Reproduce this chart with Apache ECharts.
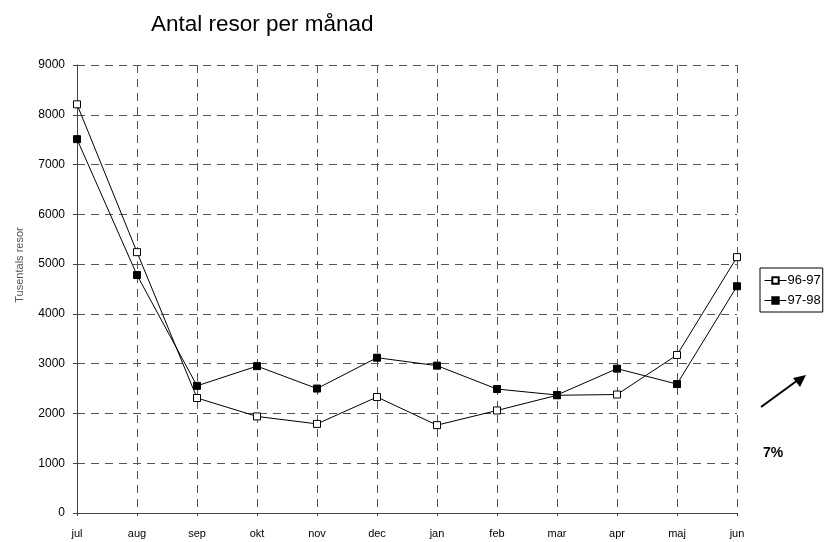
<!DOCTYPE html>
<html lang="sv">
<head>
  <meta charset="UTF-8" />
  <title>Antal resor per månad</title>
  <script src="https://cdn.jsdelivr.net/npm/echarts@6/dist/echarts.min.js"></script>
  <style>
    body { margin: 0; background: #fff; }
    #chart { width: 827px; height: 542px; }
  </style>
</head>
<body>
  <div id="chart"></div>
  <script>
    // månader (jul -> jun)
    const months = ['jul', 'aug', 'sep', 'okt', 'nov', 'dec', 'jan', 'feb', 'mar', 'apr', 'maj', 'jun'];
    // tusentals resor
    const season9697 = [8210, 5240, 2310, 1940, 1790, 2330, 1765, 2060, 2365, 2380, 3175, 5140];
    const season9798 = [7510, 4780, 2555, 2950, 2500, 3120, 2960, 2490, 2370, 2900, 2590, 4555];

    const font = 'Liberation Sans, Arial, sans-serif';
    const chart = echarts.init(document.getElementById('chart'));

    chart.setOption({
      animation: false,
      backgroundColor: '#fff',
      title: {
        text: 'Antal resor per månad',
        left: 146,
        top: 8,
        textStyle: { fontFamily: font, fontSize: 22.5, fontWeight: 'normal', color: '#000' }
      },
      legend: {
        orient: 'vertical',
        left: 760,
        top: 268,
        itemWidth: 22,
        itemHeight: 8,
        itemGap: 7,
        padding: [6, 2, 5, 4],
        borderColor: '#000',
        borderWidth: 1,
        lineStyle: { width: 1 },
        textStyle: { fontFamily: font, fontSize: 13, color: '#000', padding: [0, 0, 0, -4] },
        data: ['96-97', '97-98']
      },
      grid: { left: 77, right: 90, top: 65, bottom: 29 },
      xAxis: {
        type: 'category',
        data: months,
        boundaryGap: false,
        axisLine: { lineStyle: { color: '#444', width: 1 } },
        axisTick: { show: true, length: 3, lineStyle: { color: '#444' } },
        axisLabel: { fontFamily: font, fontSize: 11, color: '#000', margin: 15 },
        splitLine: { show: true, lineStyle: { color: '#555', type: [8, 6], width: 1 } }
      },
      yAxis: {
        type: 'value',
        min: 0,
        max: 9000,
        interval: 1000,
        name: 'Tusentals resor',
        nameLocation: 'middle',
        nameGap: 52,
        nameMoveOverlap: false,
        nameTextStyle: { fontFamily: font, fontSize: 11, color: '#555', padding: [0, 0, 0, 48] },
        axisLine: { show: true, lineStyle: { color: '#444', width: 1 } },
        axisTick: { show: true, length: 4, lineStyle: { color: '#444' } },
        axisLabel: {
          fontFamily: font, fontSize: 12, color: '#000', margin: 12,
          formatter: v => String(v)
        },
        splitLine: { show: true, lineStyle: { color: '#555', type: [8, 6], width: 1 } }
      },
      series: [
        {
          name: '96-97',
          type: 'line',
          data: season9697,
          symbol: 'rect',
          symbolSize: 7,
          lineStyle: { color: '#000', width: 1 },
          itemStyle: { color: '#fff', borderColor: '#000', borderWidth: 1 }
        },
        {
          name: '97-98',
          type: 'line',
          data: season9798,
          symbol: 'rect',
          symbolSize: 7,
          lineStyle: { color: '#000', width: 1 },
          itemStyle: { color: '#000', borderColor: '#000', borderWidth: 1 }
        }
      ],
      graphic: [
        {
          type: 'line',
          shape: { x1: 761, y1: 407, x2: 798, y2: 380 },
          style: { stroke: '#000', lineWidth: 2 }
        },
        {
          type: 'polygon',
          shape: { points: [[806, 375], [793, 378], [800, 387]] },
          style: { fill: '#000' }
        },
        {
          type: 'text',
          left: 763,
          top: 446,
          style: { text: '7%', font: 'bold 14px ' + font, fill: '#000' }
        }
      ]
    });
  </script>
</body>
</html>
